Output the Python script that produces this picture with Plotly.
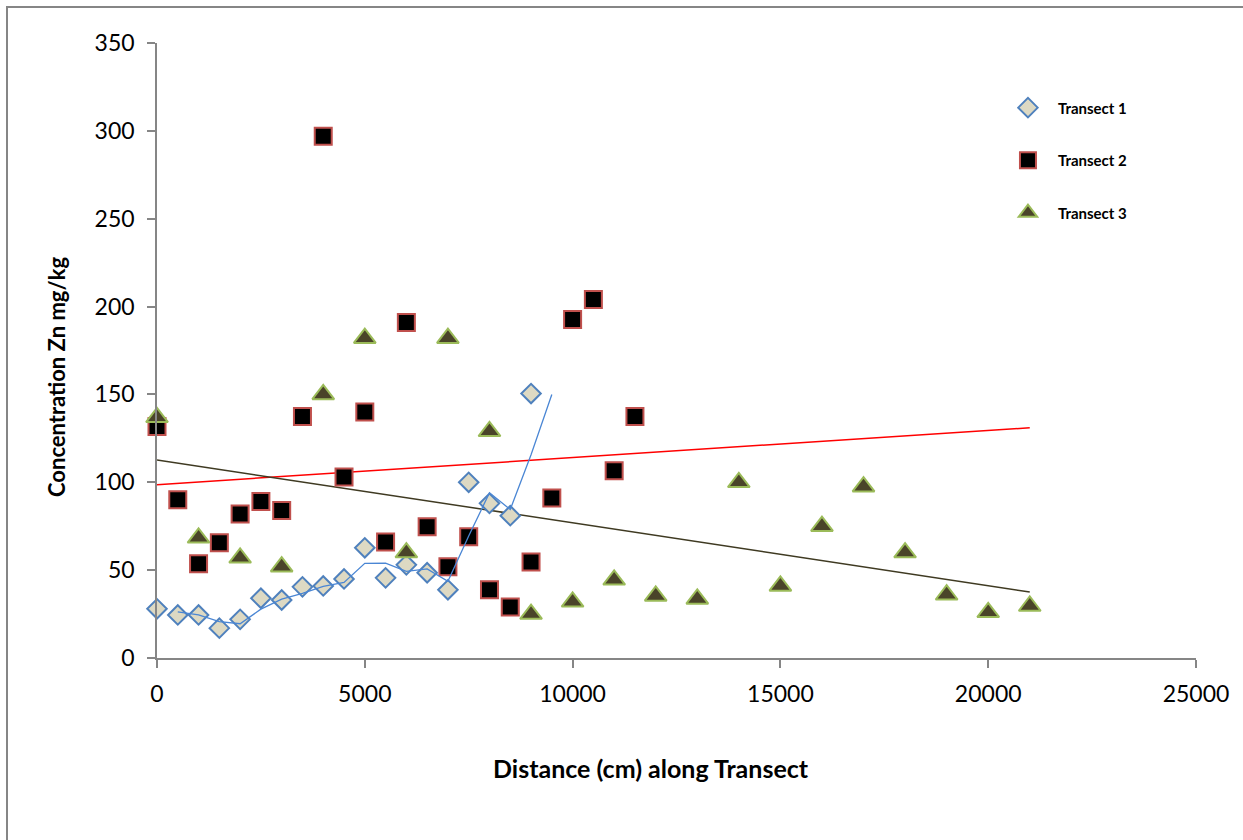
import numpy as np
import plotly.graph_objects as go

# Distances (cm) and zinc concentrations (mg/kg) along each transect
t1_x = [0, 500, 1000, 1500, 2000, 2500, 3000, 3500, 4000, 4500,
        5000, 5500, 6000, 6500, 7000, 7500, 8000, 8500, 9000]
t1_y = [28, 24.5, 24.5, 17, 22, 34, 33, 40.5, 41, 45,
        62.7, 45.6, 53, 48.5, 38.8, 100, 88, 81, 150.5]

t2_x = [0, 500, 1000, 1500, 2000, 2500, 3000, 3500, 4000, 4500, 5000, 5500,
        6000, 6500, 7000, 7500, 8000, 8500, 9000, 9500, 10000, 10500, 11000, 11500]
t2_y = [131.7, 90, 53.6, 65.6, 82, 89, 84, 137.4, 297, 103, 140, 66,
        191, 74.7, 52, 69, 38.8, 29, 54.7, 91, 192.7, 204, 106.6, 137.4]

t3_x = [0, 1000, 2000, 3000, 4000, 5000, 6000, 7000, 8000, 9000, 10000,
        11000, 12000, 13000, 14000, 15000, 16000, 17000, 18000, 19000, 20000, 21000]
t3_y = [137, 68.4, 57, 52, 150, 182, 60, 182, 129, 25, 32,
        44.5, 35.3, 33.6, 100, 41, 75, 97.5, 60, 36, 26, 29.6]

# Running mean drawn through Transect 1
t1_mean_x = [500, 1000, 1500, 2000, 2500, 3000, 3500, 4000, 4500, 5000,
             5500, 6000, 6500, 7000, 7500, 8000, 8500, 9000, 9500]
t1_mean_y = [26.2, 24.5, 20.7, 19.5, 27.8, 33.5, 36.8, 40.8, 43, 53.9,
             54, 49.3, 50.7, 43.7, 69.4, 94, 84.5, 115.7, 150]

# Span over which the linear fits are drawn
trend_span = [0, 21000]

x_ticks = [0, 5000, 10000, 15000, 20000, 25000]
y_ticks = [0, 50, 100, 150, 200, 250, 300, 350]

x_title = "Distance (cm) along Transect"
y_title = "Concentration Zn mg/kg"

FONT = "Lato, 'Open Sans', sans-serif"
AXIS_GREY = "#868686"

fit2 = np.polyfit(t2_x, t2_y, 1)
fit3 = np.polyfit(t3_x, t3_y, 1)
span = np.array(trend_span, dtype=float)

fig = go.Figure()

fig.add_trace(go.Scatter(
    x=span, y=np.polyval(fit2, span), mode="lines",
    line=dict(color="#ff0000", width=1.5), showlegend=False, hoverinfo="skip"))
fig.add_trace(go.Scatter(
    x=span, y=np.polyval(fit3, span), mode="lines",
    line=dict(color="#3f3a22", width=1.5), showlegend=False, hoverinfo="skip"))

fig.add_trace(go.Scatter(
    x=t1_x, y=t1_y, mode="markers", name="Transect 1", legendgroup="t1",
    cliponaxis=False,
    marker=dict(symbol="diamond", size=15, color="#ddd9c3",
                line=dict(color="#4f81bd", width=2))))
fig.add_trace(go.Scatter(
    x=t2_x, y=t2_y, mode="markers", name="Transect 2", legendgroup="t2",
    cliponaxis=False,
    marker=dict(symbol="square", size=17, color="#000000",
                line=dict(color="#c0504d", width=2))))
fig.add_trace(go.Scatter(
    x=t3_x, y=t3_y, mode="markers", name="Transect 3", legendgroup="t3",
    cliponaxis=False,
    marker=dict(symbol="triangle-up", size=19, color="#4a4429",
                line=dict(color="#9bbb59", width=2))))

fig.add_trace(go.Scatter(
    x=t1_mean_x, y=t1_mean_y, mode="lines",
    line=dict(color="#4a86d4", width=1.3), showlegend=False, hoverinfo="skip"))

fig.update_layout(
    width=1243, height=840,
    margin=dict(l=157, r=47, t=43, b=182),
    paper_bgcolor="white", plot_bgcolor="white",
    font=dict(family=FONT, size=23, color="black"),
    showlegend=True,
    legend=dict(x=0.8094, y=0.9213, xanchor="left", yanchor="top",
                font=dict(family=FONT, size=15, color="black", weight="bold"),
                tracegroupgap=30, itemwidth=50, bgcolor="rgba(0,0,0,0)"),
    xaxis=dict(range=[0, 25000], tickvals=x_ticks, ticktext=[str(v) for v in x_ticks],
               showgrid=False, zeroline=False, showline=True, linecolor=AXIS_GREY,
               linewidth=1.5, ticks="outside", ticklen=8, tickcolor=AXIS_GREY,
               tickwidth=1.5, ticklabelstandoff=7),
    yaxis=dict(range=[0, 350], tickvals=y_ticks, ticktext=[str(v) for v in y_ticks],
               showgrid=False, zeroline=False, showline=True, linecolor=AXIS_GREY,
               linewidth=1.5, ticks="outside", ticklen=8, tickcolor=AXIS_GREY,
               tickwidth=1.5, ticklabelstandoff=8),
)

# Axis titles, centred on the whole chart area
fig.add_annotation(text=f"<b>{x_title}</b>", xref="paper", yref="paper",
                   x=0.4755, y=-0.179, xanchor="center", yanchor="middle",
                   showarrow=False, font=dict(family=FONT, size=25, color="black"))
fig.add_annotation(text=f"<b>{y_title}</b>", xref="paper", yref="paper",
                   x=-0.0962, y=0.457, xanchor="center", yanchor="middle",
                   textangle=-90, showarrow=False,
                   font=dict(family=FONT, size=22, color="black"))

# Chart-area frame
fig.add_shape(type="rect", xref="paper", yref="paper",
              x0=(7 - 157) / 1039, x1=1.2, y0=-0.5, y1=(658 - 7) / 615,
              line=dict(color=AXIS_GREY, width=2), fillcolor="rgba(0,0,0,0)",
              layer="below")

fig.write_html("out.html")
